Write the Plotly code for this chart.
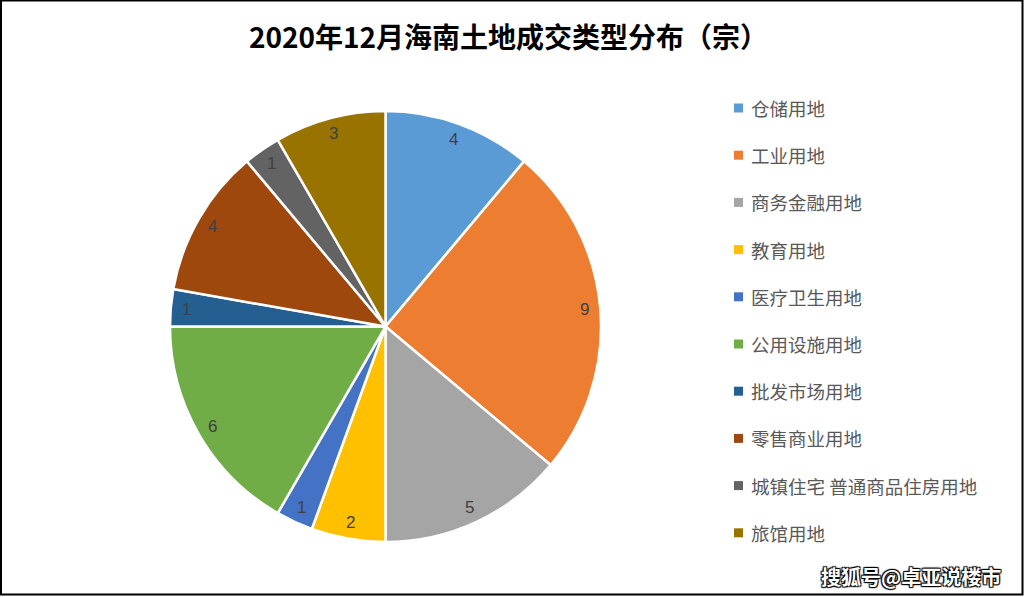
import math
import plotly.graph_objects as go

W, H = 1025, 597

categories = ["仓储用地", "工业用地", "商务金融用地", "教育用地", "医疗卫生用地",
              "公用设施用地", "批发市场用地", "零售商业用地",
              "城镇住宅 普通商品住房用地", "旅馆用地"]
values = [4, 9, 5, 2, 1, 6, 1, 4, 1, 3]
colors = ["#5B9BD5", "#ED7D31", "#A5A5A5", "#FFC000", "#4472C4",
          "#70AD47", "#255E91", "#9E480E", "#636363", "#997300"]
title = "2020年12月海南土地成交类型分布（宗）"
watermark = "搜狐号@卓亚说楼市"

# pie geometry (pixels)
cx, cy, r = 385.5, 326.5, 215.5
dom_x = [(cx - r) / W, (cx + r) / W]
dom_y = [1 - (cy + r) / H, 1 - (cy - r) / H]

fig = go.Figure()
fig.add_trace(go.Pie(
    labels=categories, values=values, sort=False, direction="clockwise",
    rotation=0, marker=dict(colors=colors, line=dict(color="white", width=2.5)),
    textinfo="none", hoverinfo="label+value", showlegend=False,
    domain=dict(x=dom_x, y=dom_y),
))

annotations = []
total = sum(values)
cum = 0
for v in values:
    mid = (cum + v / 2) / total * 2 * math.pi
    cum += v
    rr = 0.925 * r
    px = cx + rr * math.sin(mid)
    py = cy - rr * math.cos(mid)
    annotations.append(dict(x=px / W, y=1 - py / H, xref="paper", yref="paper",
                            text=str(v), showarrow=False,
                            font=dict(family="Liberation Sans, Arial", size=17, color="#404040"),
                            xanchor="center", yanchor="middle"))

# legend drawn manually
shapes = []
leg_x0, leg_y0, leg_dy = 734, 108, 47.2
for i, (c, col) in enumerate(zip(categories, colors)):
    y = leg_y0 + i * leg_dy
    shapes.append(dict(type="rect", xref="paper", yref="paper",
                       x0=leg_x0 / W, x1=(leg_x0 + 9) / W,
                       y0=1 - (y + 4.5) / H, y1=1 - (y - 4.5) / H,
                       fillcolor=col, line=dict(width=0)))
    annotations.append(dict(x=(leg_x0 + 15) / W, y=1 - y / H, xref="paper", yref="paper",
                            text=c, showarrow=False, xanchor="left", yanchor="middle",
                            font=dict(family="Noto Sans CJK SC", size=18.5, color="#595959")))

# title
annotations.append(dict(x=508 / W, y=1 - 36 / H, xref="paper", yref="paper",
                        text="<b>" + title + "</b>", showarrow=False,
                        xanchor="center", yanchor="middle",
                        font=dict(family="Noto Sans CJK SC", size=28, color="black")))

# watermark
annotations.append(dict(x=1003 / W, y=1 - 576 / H, xref="paper", yref="paper",
                        text="<b>" + watermark + "</b>", showarrow=False,
                        xanchor="right", yanchor="middle",
                        font=dict(family="Noto Sans CJK SC", size=20, color="white",
                                  shadow="1px 1px 1px #000, -1px -1px 1px #000, 1px -1px 1px #000, -1px 1px 1px #000")))

# frame
shapes.append(dict(type="rect", xref="paper", yref="paper",
                   x0=1 / W, x1=1022.5 / W, y0=1 - 594.5 / H, y1=1 - 0.5 / H,
                   line=dict(color="black", width=2), fillcolor="rgba(0,0,0,0)"))

fig.update_layout(width=W, height=H, margin=dict(l=0, r=0, t=0, b=0),
                  paper_bgcolor="white", plot_bgcolor="white",
                  annotations=annotations, shapes=shapes)

fig.write_html("out.html")
